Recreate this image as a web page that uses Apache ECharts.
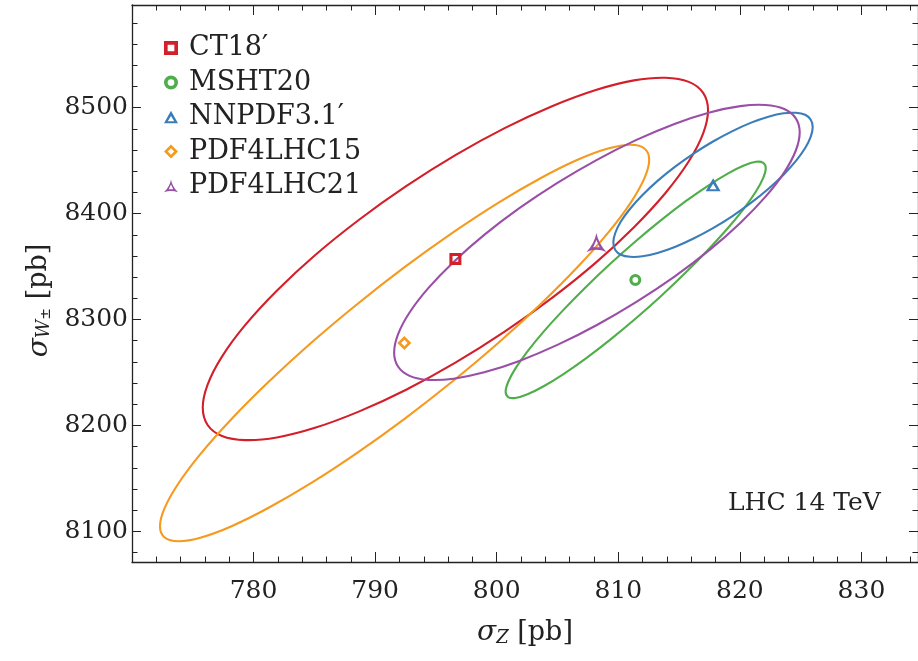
<!DOCTYPE html>
<html>
<head>
<meta charset="utf-8">
<script src="https://cdn.jsdelivr.net/npm/echarts@6/dist/echarts.min.js"></script>
<style>
  html, body { margin: 0; padding: 0; background: #fff; }
  #chart { width: 918px; height: 661px; }
</style>
</head>
<body>
<div id="chart"></div>
<script>
// names and centres of the five PDF sets
const pdfNames = ['CT18′', 'MSHT20', 'NNPDF3.1′', 'PDF4LHC15', 'PDF4LHC21'];
const centerZ = [796.6, 811.4, 817.8, 792.4, 808.2];
const centerW = [8357.2, 8337.4, 8427.2, 8277.8, 8372.8];

// points read along each ellipse (sigma_Z, sigma_W)
const ct18Z = [817.38, 816.98, 815.80, 813.88, 811.29, 808.15, 804.55, 800.65, 796.60, 792.55, 788.65, 785.05, 781.91, 779.32, 777.40, 776.22,
               775.82, 776.22, 777.40, 779.32, 781.91, 785.05, 788.65, 792.55, 796.60, 800.65, 804.55, 808.15, 811.29, 813.88, 815.80, 816.98];
const ct18W = [8497.6, 8514.0, 8524.4, 8528.3, 8525.8, 8516.7, 8501.4, 8480.7, 8455.2, 8425.9, 8394.0, 8360.7, 8327.2, 8294.9, 8265.0, 8238.6,
               8216.8, 8200.4, 8190.0, 8186.1, 8188.6, 8197.7, 8213.0, 8233.7, 8259.2, 8288.5, 8320.4, 8353.7, 8387.2, 8419.5, 8449.4, 8475.8];

const mshtZ = [822.13, 821.92, 821.32, 820.33, 819.00, 817.37, 815.52, 813.52, 811.43, 809.34, 807.34, 805.49, 803.86, 802.53, 801.54, 800.94,
               800.73, 800.94, 801.54, 802.53, 803.86, 805.49, 807.34, 809.34, 811.43, 813.52, 815.52, 817.37, 819.00, 820.33, 821.32, 821.92];
const mshtW = [8442.9, 8448.0, 8448.9, 8445.4, 8437.8, 8426.3, 8411.5, 8393.8, 8373.9, 8352.6, 8330.7, 8309.1, 8288.6, 8270.0, 8253.9, 8241.0,
               8231.9, 8226.8, 8225.9, 8229.4, 8237.0, 8248.5, 8263.3, 8281.0, 8300.9, 8322.2, 8344.1, 8365.7, 8386.2, 8404.8, 8420.9, 8433.8];

const nnpdfZ = [825.99, 825.83, 825.37, 824.61, 823.59, 822.35, 820.93, 819.39, 817.79, 816.19, 814.65, 813.23, 811.99, 810.97, 810.21, 809.75,
                809.59, 809.75, 810.21, 810.97, 811.99, 813.23, 814.65, 816.19, 817.79, 819.39, 820.93, 822.35, 823.59, 824.61, 825.37, 825.83];
const nnpdfW = [8481.7, 8488.7, 8493.3, 8495.2, 8494.7, 8491.5, 8485.9, 8477.9, 8468.1, 8456.7, 8444.1, 8430.9, 8417.6, 8404.6, 8392.5, 8381.7,
                8372.7, 8365.7, 8361.1, 8359.2, 8359.7, 8362.9, 8368.5, 8376.5, 8386.3, 8397.7, 8410.3, 8423.5, 8436.8, 8449.8, 8461.9, 8472.7];

const lhc15Z = [812.54, 812.15, 811.01, 809.15, 806.65, 803.60, 800.12, 796.35, 792.42, 788.49, 784.72, 781.24, 778.19, 775.69, 773.83, 772.69,
                772.30, 772.69, 773.83, 775.69, 778.19, 781.24, 784.72, 788.49, 792.42, 796.35, 800.12, 803.60, 806.65, 809.15, 811.01, 812.15];
const lhc15W = [8450.8, 8461.5, 8465.0, 8461.4, 8450.8, 8433.4, 8410.2, 8381.8, 8349.4, 8314.2, 8277.8, 8241.2, 8206.1, 8173.8, 8145.4, 8122.1,
                8104.8, 8094.1, 8090.6, 8094.2, 8104.8, 8122.2, 8145.4, 8173.8, 8206.2, 8241.4, 8277.8, 8314.4, 8349.5, 8381.8, 8410.2, 8433.5];

const lhc21Z = [824.92, 824.60, 823.65, 822.11, 820.03, 817.51, 814.62, 811.49, 808.24, 804.99, 801.86, 798.97, 796.45, 794.37, 792.83, 791.88,
                791.56, 791.88, 792.83, 794.37, 796.45, 798.97, 801.86, 804.99, 808.24, 811.49, 814.62, 817.51, 820.03, 822.11, 823.65, 824.60];
const lhc21W = [8476.8, 8490.0, 8498.8, 8502.6, 8501.5, 8495.5, 8484.7, 8469.6, 8450.8, 8429.0, 8405.1, 8379.9, 8354.4, 8329.6, 8306.6, 8286.0,
                8268.8, 8255.6, 8246.8, 8243.0, 8244.1, 8250.1, 8260.9, 8276.0, 8294.8, 8316.6, 8340.5, 8365.7, 8391.2, 8416.0, 8439.0, 8459.6];

// tick values
const xMajor = [780, 790, 800, 810, 820, 830];
const xMinor = [772, 774, 776, 778, 782, 784, 786, 788, 792, 794, 796, 798, 802, 804, 806, 808,
                812, 814, 816, 818, 822, 824, 826, 828, 832, 834];
const yMajor = [8100, 8200, 8300, 8400, 8500];
const yMinor = [8080, 8120, 8140, 8160, 8180, 8220, 8240, 8260, 8280, 8320, 8340, 8360, 8380,
                8420, 8440, 8460, 8480, 8520, 8540, 8560, 8580];

const colors = ['#d31f29', '#4fae4a', '#3b7db8', '#f59a1f', '#9a4fa6'];
const ellipseZ = [ct18Z, mshtZ, nnpdfZ, lhc15Z, lhc21Z];
const ellipseW = [ct18W, mshtW, nnpdfW, lhc15W, lhc21W];

// hollow marker paths (outer shape + reversed inner hole)
const symbols = [
  'path://M0 0H10V10H0Z M2.6 2.6V7.4H7.4V2.6Z',
  'path://M5 0A5 5 0 1 1 5 10A5 5 0 1 1 5 0Z M5 2.6A2.4 2.4 0 1 0 5 7.4A2.4 2.4 0 1 0 5 2.6Z',
  'path://M5 0L10 9L0 9Z M5 3.7L2.7 7.6L7.3 7.6Z',
  'path://M5 0L10 5L5 10L0 5Z M5 2.7L2.7 5L5 7.3L7.3 5Z',
  'path://M5 0Q6 5 10 9Q5 7 0 9Q4 5 5 0Z M5 3.4L3.4 6.8L6.6 6.8Z'
];
const symbolSizes = [[12, 12], [12, 12], [15, 13], [14, 14], [20, 19]];

const FONT = 'DejaVu Serif';
const X_MIN = 770, X_MAX = 834.65, Y_MIN = 8071, Y_MAX = 8597;

function makeAxis(pos, ticks, len, labels, extra) {
  const horiz = pos === 'top' || pos === 'bottom';
  return Object.assign({
    type: 'value',
    position: pos,
    min: horiz ? X_MIN : Y_MIN,
    max: horiz ? X_MAX : Y_MAX,
    splitLine: { show: false },
    axisLine: { show: true, onZero: false, lineStyle: { color: '#222', width: 1.3 } },
    axisTick: { show: true, inside: true, length: len, customValues: ticks, lineStyle: { color: '#222', width: 1 } },
    axisLabel: labels ? {
      show: true, customValues: labels, fontFamily: FONT, fontSize: 25, color: '#222',
      margin: horiz ? 17 : 4,
      formatter: function (v) { return String(v); }
    } : { show: false }
  }, extra || {});
}

const series = [];
pdfNames.forEach(function (name, i) {
  const zs = ellipseZ[i], ws = ellipseW[i];
  series.push({
    type: 'custom',
    name: name + ' ellipse',
    xAxisIndex: 0,
    yAxisIndex: 0,
    silent: true,
    z: 2,
    data: zs.map(function (z, j) { return [z, ws[j]]; }),
    renderItem: function (params, api) {
      if (params.dataIndex !== 0) return null;
      const pts = zs.map(function (z, j) { return api.coord([z, ws[j]]); });
      return {
        type: 'polygon',
        shape: { points: pts, smooth: 0.35 },
        style: { fill: 'none', stroke: colors[i], lineWidth: 2.1 }
      };
    }
  });
});
pdfNames.forEach(function (name, i) {
  series.push({
    type: 'scatter',
    name: name,
    xAxisIndex: 0,
    yAxisIndex: 0,
    z: 5,
    symbol: symbols[i],
    symbolSize: symbolSizes[i],
    itemStyle: { color: colors[i], opacity: 1 },
    data: [[centerZ[i], centerW[i]]]
  });
});

const chart = echarts.init(document.getElementById('chart'), null, { renderer: 'canvas' });
chart.setOption({
  animation: false,
  backgroundColor: '#fff',
  grid: { left: 132, top: 5, right: -3, bottom: 99, containLabel: false },
  xAxis: [
    makeAxis('bottom', xMajor, 10, xMajor, {
      name: '{s|σ}{sub|Z}{n| [pb]}',
      nameLocation: 'middle',
      nameGap: 57,
      nameTextStyle: {
        color: '#222',
        rich: {
          s: { fontFamily: FONT, fontStyle: 'italic', fontSize: 28, color: '#222' },
          sub: { fontFamily: FONT, fontStyle: 'italic', fontSize: 18, color: '#222', verticalAlign: 'bottom', lineHeight: 10 },
          n: { fontFamily: FONT, fontSize: 27, color: '#222' }
        }
      }
    }),
    makeAxis('bottom', xMinor, 5.5, null, { axisLine: { show: false } }),
    makeAxis('top', xMajor, 10, null),
    makeAxis('top', xMinor, 5.5, null, { axisLine: { show: false } })
  ],
  yAxis: [
    makeAxis('left', yMajor, 9, yMajor, {
      name: '{s|σ}{sub|W}{sup|±}{n| [pb]}',
      nameLocation: 'middle',
      nameGap: 72,
      nameRotate: 90,
      nameTextStyle: {
        color: '#222',
        padding: [0, 34, 0, 0],
        rich: {
          s: { fontFamily: FONT, fontStyle: 'italic', fontSize: 28, color: '#222' },
          sub: { fontFamily: FONT, fontStyle: 'italic', fontSize: 18, color: '#222', verticalAlign: 'bottom', lineHeight: 10 },
          sup: { fontFamily: FONT, fontSize: 14, color: '#222', verticalAlign: 'bottom', lineHeight: 20 },
          n: { fontFamily: FONT, fontSize: 27, color: '#222' }
        }
      }
    }),
    makeAxis('left', yMinor, 5.5, null, { axisLine: { show: false } }),
    makeAxis('right', yMajor, 9, null),
    makeAxis('right', yMinor, 5.5, null, { axisLine: { show: false } })
  ],
  legend: {
    orient: 'vertical',
    left: 159,
    top: 29,
    itemWidth: 14,
    itemHeight: 14,
    itemGap: 6.5,
    selectedMode: false,
    textStyle: { fontFamily: FONT, fontSize: 27, color: '#222', lineHeight: 28, padding: [0, 0, 0, 6] },
    data: pdfNames.map(function (name, i) { return { name: name, icon: symbols[i] }; })
  },
  graphic: [{
    type: 'text',
    left: 728,
    top: 491,
    style: { text: 'LHC 14 TeV', font: '25px "DejaVu Serif"', fill: '#222' }
  }],
  series: series
});
</script>
</body>
</html>
